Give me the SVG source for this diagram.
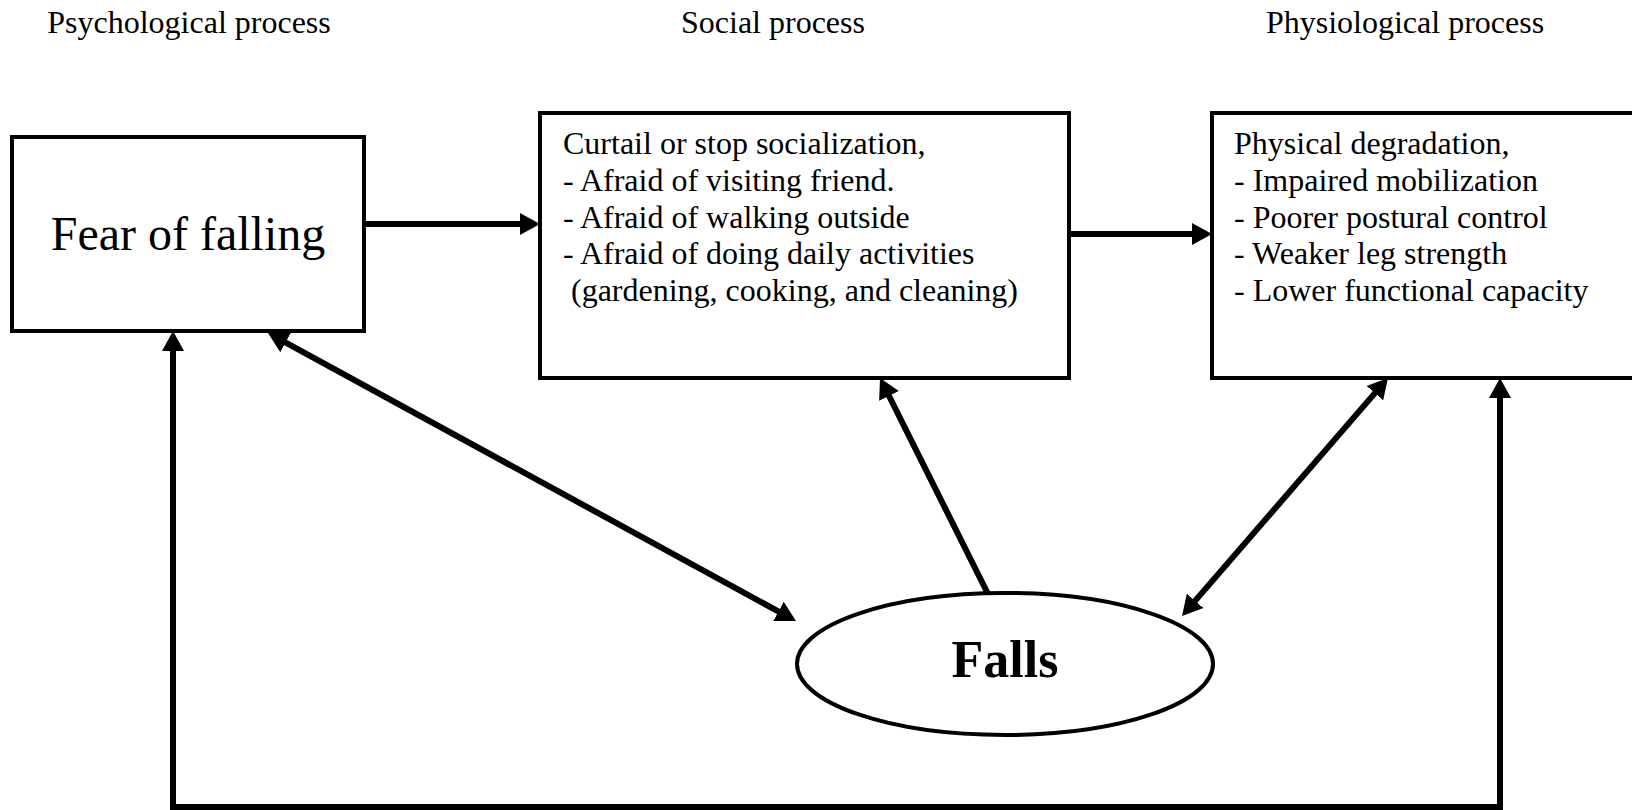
<svg xmlns="http://www.w3.org/2000/svg" width="1632" height="810" viewBox="0 0 1632 810">
<style>
text{font-family:"Liberation Serif","Times New Roman",serif;fill:#000}
.title{font-size:32px;text-anchor:middle}
.body{font-size:32px}
.box{fill:#fff;stroke:#000;stroke-width:4}
.conn{fill:none;stroke:#000;stroke-width:6}
</style>
<defs>
<marker id="arrow" markerUnits="userSpaceOnUse" markerWidth="22" markerHeight="24" refX="6" refY="11" orient="auto-start-reverse" viewBox="0 0 22 22">
<path d="M0,0 L20,11 L0,22 z" fill="#000"/>
</marker>
</defs>
<g id="titles">
<text class="title" x="189" y="33">Psychological process</text>
<text class="title" x="773" y="33">Social process</text>
<text class="title" x="1405" y="33">Physiological process</text>
</g>
<g id="fear">
<rect class="box" x="12" y="137" width="352" height="194"/>
<text x="188" y="250" style="font-size:48px;text-anchor:middle">Fear of falling</text>
</g>
<g id="social">
<rect class="box" x="540" y="113" width="529" height="265"/>
<text class="body" x="563" y="154">Curtail or stop socialization,</text>
<text class="body" x="563" y="191">- Afraid of visiting friend.</text>
<text class="body" x="563" y="227.5">- Afraid of walking outside</text>
<text class="body" x="563" y="264">- Afraid of doing daily activities</text>
<text class="body" x="571" y="301">(gardening, cooking, and cleaning)</text>
</g>
<g id="physical">
<rect class="box" x="1212" y="113" width="440" height="265"/>
<text class="body" x="1234" y="154">Physical degradation,</text>
<text class="body" x="1234" y="191">- Impaired mobilization</text>
<text class="body" x="1234" y="227.5">- Poorer postural control</text>
<text class="body" x="1234" y="264">- Weaker leg strength</text>
<text class="body" x="1234" y="301">- Lower functional capacity</text>
</g>
<g id="falls">
<ellipse class="box" cx="1005" cy="664" rx="208" ry="71"/>
<text x="1005" y="677" style="font-size:52px;font-weight:bold;text-anchor:middle">Falls</text>
</g>
<g id="connectors">
<line class="conn" x1="364" y1="224" x2="526" y2="224" marker-end="url(#arrow)"/>
<line class="conn" x1="1069" y1="234" x2="1198" y2="234" marker-end="url(#arrow)"/>
<line class="conn" x1="988" y1="594" x2="886.3" y2="390.5" marker-end="url(#arrow)"/>
<line class="conn" x1="1191.2" y1="605.4" x2="1378.8" y2="388.6" marker-start="url(#arrow)" marker-end="url(#arrow)"/>
<line class="conn" x1="280.3" y1="339.7" x2="783.7" y2="614.3" marker-start="url(#arrow)" marker-end="url(#arrow)"/>
<polyline class="conn" points="173,345 173,807 1500,807 1500,392" marker-start="url(#arrow)" marker-end="url(#arrow)"/>
</g>
</svg>
